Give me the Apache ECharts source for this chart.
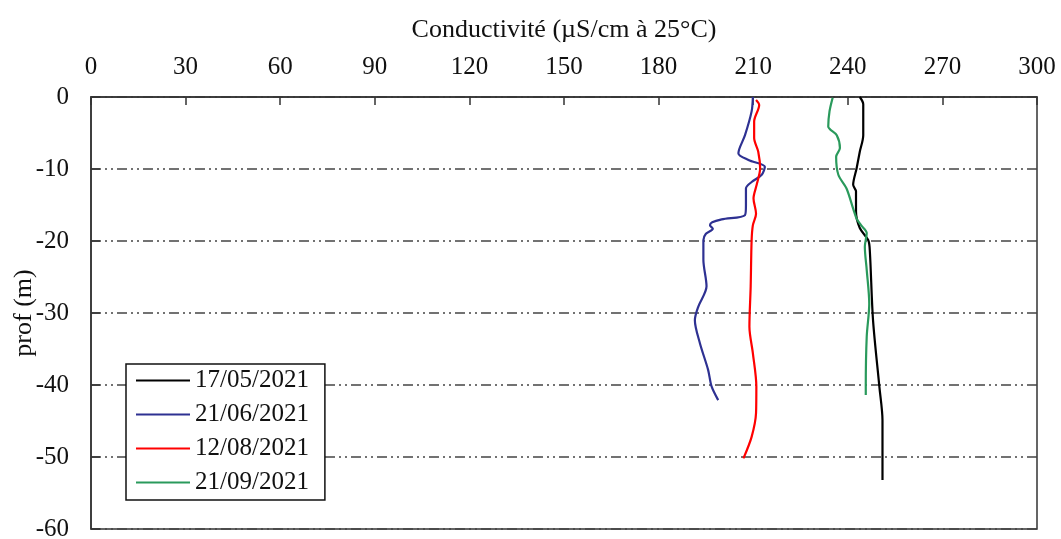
<!DOCTYPE html>
<html><head><meta charset="utf-8">
<script src="https://cdn.jsdelivr.net/npm/echarts@6/dist/echarts.min.js"></script>
<style>html,body{margin:0;padding:0;background:#fff}#c{width:1061px;height:539px}</style>
</head><body><div id="c"></div>
<script>
const xTicks = [0,30,60,90,120,150,180,210,240,270,300];
const yTicks = [0,-10,-20,-30,-40,-50,-60];
const seriesNames = ['17/05/2021','21/06/2021','12/08/2021','21/09/2021'];

const depth0517 = [0,-1,-5.3,-7.6,-9.9,-12.2,-13.1,-15.9,-18.2,-19.9,-21.5,-31,-40.2,-44.9,-53.2];
const cond0517  = [243.8,244.9,244.9,243.8,242.8,241.7,242.6,242.6,243.8,246.5,247,248,250,251,251];

const depth0621 = [0,-2,-5.3,-7.8,-8.75,-9.7,-10.8,-11.8,-12.7,-15,-16.4,-17.0,-17.4,-17.8,-18.3,-19,-19.9,-22.6,-26.3,-29.1,-31,-34.2,-37.9,-40.2,-42.1];
const cond0621  = [209.9,209.5,207.4,205.3,208.5,213.7,212.7,209.5,207.7,207.7,207.4,200,197,196.3,197.2,195,194.2,194.2,195.2,192.6,191.5,193.1,195.7,196.8,198.9];

const depth0812 = [-0.4,-1.1,-3.4,-5.7,-7.6,-9.9,-12.2,-14.1,-16.2,-17.8,-19.9,-26.3,-31.9,-35.6,-40.2,-43.9,-47.2,-50.2];
const cond0812  = [210.9,211.9,210.3,210.3,211.6,212.2,211.1,210.1,210.9,209.9,209.5,209.2,208.8,209.9,211,210.9,209.5,206.9];

const depth0921 = [-0.1,-2,-4.1,-5.3,-7.1,-8.3,-10.8,-12.7,-15.5,-16.9,-17.8,-18.9,-20.8,-24,-28.7,-33.3,-40.2,-41.4];
const cond0921  = [235.2,234.2,233.8,236.5,237.5,236.3,237,239.6,241.7,242.8,244.2,246,245.4,246,246.8,246,245.7,245.7];

const colors = ['#000000','#2e3192','#ff0000','#2a9a5c'];
const pairs = [[cond0517,depth0517],[cond0621,depth0621],[cond0812,depth0812],[cond0921,depth0921]];
const font = 'Liberation Serif';

const chart = echarts.init(document.getElementById('c'));
chart.setOption({
  animation:false,
  textStyle:{fontFamily:font},
  grid:{left:91, right:24, top:97, bottom:10, show:true, borderColor:'#333', borderWidth:1.5,
    containLabel:false, outerBoundsMode:'none'},
  xAxis:{type:'value', position:'top', min:0, max:300, interval:30,
    name:'Conductivité (µS/cm à 25°C)', nameLocation:'middle', nameGap:54, nameMoveOverlap:false,
    nameTextStyle:{fontFamily:font, fontSize:26, color:'#111'},
    axisLine:{show:true, lineStyle:{color:'#333', width:1.5}},
    axisTick:{show:true, inside:true, length:8, lineStyle:{color:'#333', width:1.5}},
    axisLabel:{fontFamily:font, fontSize:25, color:'#111', margin:17},
    splitLine:{show:false}},
  yAxis:{type:'value', min:-60, max:0, interval:10,
    name:'prof (m)', nameLocation:'middle', nameGap:54, nameRotate:90, nameMoveOverlap:false,
    nameTextStyle:{fontFamily:font, fontSize:26, color:'#111'},
    axisLine:{show:true, lineStyle:{color:'#333', width:1.5}},
    axisTick:{show:true, inside:true, length:9, lineStyle:{color:'#333', width:1.5}},
    axisLabel:{fontFamily:font, fontSize:25, color:'#111', margin:22},
    splitLine:{show:true, lineStyle:{color:'#444', width:1.5, type:[10,4,2,4,2,4]}}},
  legend:{orient:'vertical', left:126, top:364, data:seriesNames,
    backgroundColor:'#fff',
    borderColor:'#111', borderWidth:1.5, padding:[4,16,5,9], itemGap:9,
    itemWidth:54, itemHeight:14, itemStyle:{opacity:0},
    textStyle:{fontFamily:font, fontSize:25, color:'#111', lineHeight:25}},
  series: seriesNames.map((n,i)=>({
    name:n, type:'line', symbol:'none', smooth:0.3, z:3,
    lineStyle:{color:colors[i], width:2.2}, itemStyle:{color:colors[i]},
    data: pairs[i][0].map((v,k)=>[v, pairs[i][1][k]])
  }))
});
</script></body></html>
